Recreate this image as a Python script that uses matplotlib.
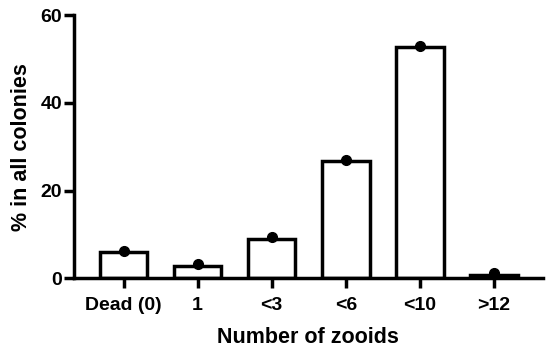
import matplotlib
matplotlib.use("Agg")
import matplotlib.pyplot as plt

categories = ["Dead (0)", "1", "<3", "<6", "<10", ">12"]
bar_means = [6.0, 2.8, 9.0, 26.7, 52.6, 0.7]
point_values = [6.3, 3.2, 9.4, 27.0, 53.0, 1.2]
yticks = [0, 20, 40, 60]

plt.rcParams['font.family'] = ['Liberation Sans', 'DejaVu Sans']
plt.rcParams['font.weight'] = 'bold'

fig = plt.figure(figsize=(5.5, 3.53), dpi=100)
ax = fig.add_axes([0.1345, 0.2116, 0.8525, 0.7459])

x = list(range(len(categories)))
ax.bar(x, bar_means, width=0.64, facecolor='white', edgecolor='black', linewidth=2.5, zorder=2)
ax.plot(x, point_values, 'o', color='black', markersize=7, zorder=3, clip_on=False)

ax.set_xlim(-0.67, 5.66)
ax.set_ylim(0, 60)
ax.set_yticks(yticks)
ax.set_xticks(x)
ax.set_xticklabels(categories)

for s in ['top', 'right']:
    ax.spines[s].set_visible(False)
for s in ['left', 'bottom']:
    ax.spines[s].set_linewidth(2.5)

ax.tick_params(axis='both', length=7.5, width=2.5, labelsize=14)
ax.tick_params(axis='y', pad=1)
ax.tick_params(axis='x', pad=6)
for lab in ax.get_xticklabels() + ax.get_yticklabels():
    lab.set_fontweight('bold')

ax.set_xlabel("Number of zooids", fontsize=15.5, fontweight='bold', labelpad=9)
ax.set_ylabel("% in all colonies", fontsize=15.5, fontweight='bold', labelpad=6)

fig.savefig("out.png", dpi=100)
